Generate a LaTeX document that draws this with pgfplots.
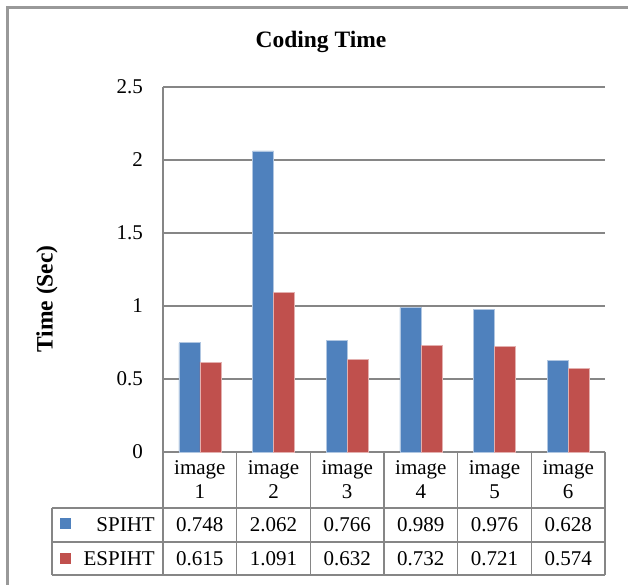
\documentclass[border=0pt]{standalone}
\usepackage{fontspec}
\setmainfont{Liberation Serif}
\usepackage{pgfplots}
\pgfplotsset{compat=1.18}
\definecolor{spblue}{HTML}{4F81BD}
\definecolor{spred}{HTML}{C0504D}
\definecolor{gridgray}{HTML}{868686}
\definecolor{framegray}{HTML}{999999}
\newcommand{\tf}{\fontsize{21bp}{24bp}\selectfont}
\newcommand{\bff}{\fontsize{23.5bp}{27bp}\selectfont\bfseries}
\begin{document}
\begin{tikzpicture}
\useasboundingbox[fill=white] (0,0) rectangle (628bp,585bp);
\begin{axis}[
  at={(163bp,133bp)}, anchor=south west,
  scale only axis, width=442bp, height=365bp,
  xmin=-0.5, xmax=5.5, ymin=0, ymax=2.5,
  ytick={0,0.5,1,1.5,2,2.5},
  xtick=\empty,
  axis line style={draw=none},
  ymajorgrids, grid style={gridgray, line width=1.5bp},
  major tick length=0pt,
  yticklabel style={font=\tf, inner sep=0pt, anchor=east, xshift=-20bp},
  /pgf/number format/assume math mode=true,
  clip=false,
]
\addplot[ybar, bar width=21bp, bar shift=-10.5bp, fill=spblue, draw=spblue!45!white, line width=0.6bp]
  coordinates {(0,0.748) (1,2.062) (2,0.766) (3,0.989) (4,0.976) (5,0.628)};
\addplot[ybar, bar width=21bp, bar shift=10.5bp, fill=spred, draw=spred!45!white, line width=0.6bp]
  coordinates {(0,0.615) (1,1.091) (2,0.632) (3,0.732) (4,0.721) (5,0.574)};
\end{axis}
\begin{scope}[yshift=585bp, x=1bp, y=-1bp]
  % outer frame
  \draw[framegray, line width=3bp] (7.5,585) -- (7.5,7.5) -- (628,7.5);
  % title and y label
  \node[font=\bff] at (321,42) {Coding Time};
  \node[font=\bff, rotate=90] at (47,299) {Time (Sec)};
  % table lines
  \begin{scope}[gridgray, line width=1.5bp]
    \draw (163,87) -- (163,575);
    \foreach \k in {1,...,6} { \draw ({163+\k*73.667},452) -- ({163+\k*73.667},575); }
    \draw (52,508) -- (605,508);
    \draw (52,542) -- (605,542);
    \draw (52,575) -- (605,575);
    \draw (52,508) -- (52,575);
  \end{scope}
  % header
  \foreach \k in {1,...,6} {
    \node[font=\tf, align=center, inner sep=0pt] at ({163+(\k-0.5)*73.667},480) {image\\\k};
  }
  % legend keys
  \fill[spblue] (60,518) rectangle (71,529);
  \fill[spred] (60,553) rectangle (71,564);
  \node[font=\tf, anchor=east, inner sep=0pt] at (155,525) {SPIHT};
  \node[font=\tf, anchor=east, inner sep=0pt] at (155,558.5) {ESPIHT};
  % values
  \foreach \v [count=\k] in {0.748,2.062,0.766,0.989,0.976,0.628} {
    \node[font=\tf, inner sep=0pt] at ({163+(\k-0.5)*73.667},525) {\v};
  }
  \foreach \v [count=\k] in {0.615,1.091,0.632,0.732,0.721,0.574} {
    \node[font=\tf, inner sep=0pt] at ({163+(\k-0.5)*73.667},558.5) {\v};
  }
\end{scope}
\end{tikzpicture}
\end{document}
